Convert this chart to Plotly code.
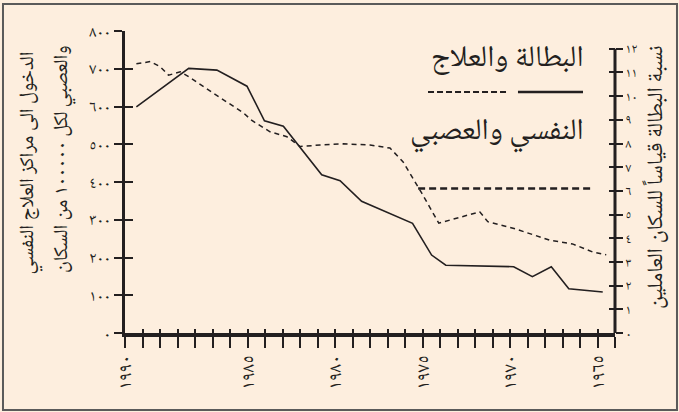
import plotly.graph_objects as go

# ---- data ----
unemp_years = [1991.35, 1988.36, 1986.75, 1985.03, 1984.03, 1982.95, 1980.76, 1979.71,
               1978.48, 1975.57, 1974.48, 1973.67, 1969.79, 1968.72, 1967.64, 1966.64, 1964.70]
unemp_rate = [9.55, 11.17, 11.10, 10.42, 8.96, 8.73, 6.68, 6.43,
              5.56, 4.63, 3.29, 2.86, 2.80, 2.38, 2.80, 1.87, 1.73]

psych_years = [1991.35, 1990.55, 1989.98, 1989.51, 1988.84, 1988.36, 1986.94, 1985.23,
               1984.75, 1983.71, 1982.75, 1981.99, 1980.85, 1979.54, 1978.00, 1976.86,
               1976.12, 1975.05, 1974.07, 1971.73, 1971.27, 1969.64, 1967.74, 1966.43,
               1965.29, 1964.50]
psych_admissions = [713, 719, 705, 683, 692, 679, 635, 583,
                    563, 533, 520, 494, 498, 501, 498, 490,
                    454, 371, 291, 321, 295, 275, 246, 236,
                    215, 207]

x_tick_vals = [1992, 1985, 1980, 1975, 1970, 1965]
x_tick_text = ['١٩٩٠', '١٩٨٥', '١٩٨٠', '١٩٧٥', '١٩٧٠', '١٩٦٥']
left_tick_vals = [0, 100, 200, 300, 400, 500, 600, 700, 800]
left_tick_text = ['٠', '١٠٠', '٢٠٠', '٣٠٠', '٤٠٠', '٥٠٠', '٦٠٠', '٧٠٠', '٨٠٠']
right_tick_vals = list(range(0, 13))
right_tick_text = ['٠', '١', '٢', '٣', '٤', '٥', '٦', '٧', '٨', '٩', '١٠', '١١', '١٢']

ref_level = 6.1                 # long dashed reference line (right axis units)
ref_span = [1975.25, 1965.35]

left_title_1 = 'الدخول الى مراكز العلاج النفسي'
left_title_2 = 'والعصبي لكل ١٠٠٠٠٠ من السكان'
right_title = 'نسبة البطالة قياساً للسكان العاملين'
legend_line1 = 'البطالة والعلاج'
legend_line2 = 'النفسي والعصبي'

# ---- style ----
BG = '#fdeede'
INK = '#231f20'
FONT = 'Noto Naskh Arabic, Amiri, Noto Sans Arabic, DejaVu Sans, serif'

fig = go.Figure()
fig.add_trace(go.Scatter(x=psych_years, y=psych_admissions, mode='lines',
                         line=dict(color=INK, width=1.5, dash='5px,4px'),
                         xaxis='x', yaxis='y', hoverinfo='skip', showlegend=False))
fig.add_trace(go.Scatter(x=unemp_years, y=unemp_rate, mode='lines',
                         line=dict(color=INK, width=1.6),
                         xaxis='x', yaxis='y2', hoverinfo='skip', showlegend=False))
# empty traces to activate overlay axes used for inner tick halves
fig.add_trace(go.Scatter(x=[], y=[], xaxis='x2', yaxis='y3', showlegend=False, hoverinfo='skip'))
fig.add_trace(go.Scatter(x=[], y=[], xaxis='x2', yaxis='y4', showlegend=False, hoverinfo='skip'))

xr = [1992, 1964]
yr2 = [0, 12.75]

fig.update_layout(
    width=679, height=412,
    margin=dict(l=125, r=64, t=31, b=79),
    paper_bgcolor=BG, plot_bgcolor=BG,
    font=dict(family=FONT, color=INK),
    xaxis=dict(range=xr, tickmode='array', tickvals=x_tick_vals, ticktext=x_tick_text,
               tickangle=-90, ticks='outside', ticklen=11, tickwidth=1.5, tickcolor=INK,
               minor=dict(tickmode='linear', tick0=1965, dtick=1, ticks='outside',
                          ticklen=11, tickwidth=1.5, tickcolor=INK),
               showline=True, linewidth=3.5, linecolor=INK, showgrid=False, zeroline=False,
               tickfont=dict(size=19, family=FONT, color=INK), anchor='y'),
    xaxis2=dict(range=xr, overlaying='x', tickmode='linear', tick0=1965, dtick=1,
                ticks='inside', ticklen=4, tickwidth=1.5, tickcolor=INK,
                showticklabels=False, showline=False, showgrid=False, zeroline=False,
                anchor='y', side='bottom'),
    yaxis=dict(range=[0, 800], tickmode='array', tickvals=left_tick_vals, ticktext=left_tick_text,
               ticks='outside', ticklen=8, tickwidth=1.8, tickcolor=INK,
               showline=True, linewidth=3, linecolor=INK, showgrid=False, zeroline=False,
               tickfont=dict(size=16, family=FONT, color=INK), anchor='x'),
    yaxis2=dict(range=yr2, overlaying='y', side='right', tickmode='array',
                tickvals=right_tick_vals, ticktext=right_tick_text,
                ticks='outside', ticklen=7, tickwidth=1.8, tickcolor=INK,
                showline=False, showgrid=False, zeroline=False,
                tickfont=dict(size=13, family=FONT, color=INK), anchor='x'),
    yaxis3=dict(range=[0, 800], overlaying='y', side='left', tickmode='array',
                tickvals=left_tick_vals, ticks='inside', ticklen=8, tickwidth=1.8,
                tickcolor=INK, showticklabels=False, showline=False, showgrid=False,
                zeroline=False, anchor='x2'),
    yaxis4=dict(range=yr2, overlaying='y', side='right', tickmode='array',
                tickvals=right_tick_vals, ticks='inside', ticklen=6, tickwidth=1.8,
                tickcolor=INK, showticklabels=False, showline=False, showgrid=False,
                zeroline=False, anchor='x2'),
    showlegend=False,
)

shapes = [
    # outer frame
    dict(type='rect', xref='paper', yref='paper', x0=-0.249, x1=1.1265, y0=-0.255, y1=1.0894,
         line=dict(color='#5a5a5a', width=2), fillcolor='rgba(0,0,0,0)', layer='below'),
    # right axis line (ends at 12)
    dict(type='line', xref='paper', yref='y2', x0=1, x1=1, y0=0, y1=12,
         line=dict(color=INK, width=3)),
    # reference long dashed line
    dict(type='line', xref='x', yref='y2', x0=ref_span[0], x1=ref_span[1], y0=ref_level, y1=ref_level,
         line=dict(color=INK, width=2.6, dash='7px,4px')),
    # legend keys
    dict(type='line', xref='paper', yref='paper', x0=0.802, x1=0.9347, y0=0.798, y1=0.798,
         line=dict(color=INK, width=2.5)),
    dict(type='line', xref='paper', yref='paper', x0=0.6184, x1=0.7816, y0=0.798, y1=0.798,
         line=dict(color=INK, width=2, dash='6px,3px')),
]
fig.update_layout(shapes=shapes)

annotations = [
    dict(text=left_title_1, xref='paper', yref='paper', x=-0.1939, y=0.9404, textangle=-90,
         showarrow=False, font=dict(size=20, family=FONT, color=INK),
         xanchor='center', yanchor='top'),
    dict(text=left_title_2, xref='paper', yref='paper', x=-0.1265, y=0.9603, textangle=-90,
         showarrow=False, font=dict(size=20, family=FONT, color=INK),
         xanchor='center', yanchor='top'),
    dict(text=right_title, xref='paper', yref='paper', x=1.0857, y=0.9603, textangle=-90,
         showarrow=False, font=dict(size=22, family=FONT, color=INK),
         xanchor='center', yanchor='top'),
    dict(text=legend_line1, xref='paper', yref='paper', x=0.9408, y=0.904,
         showarrow=False, font=dict(size=30, family=FONT, color=INK),
         xanchor='right', yanchor='middle'),
    dict(text=legend_line2, xref='paper', yref='paper', x=0.9408, y=0.664,
         showarrow=False, font=dict(size=30, family=FONT, color=INK),
         xanchor='right', yanchor='middle'),
]
fig.update_layout(annotations=annotations)

fig.write_html('out.html', config={'displayModeBar': False},
               post_script="document.body.style.margin='0';")
